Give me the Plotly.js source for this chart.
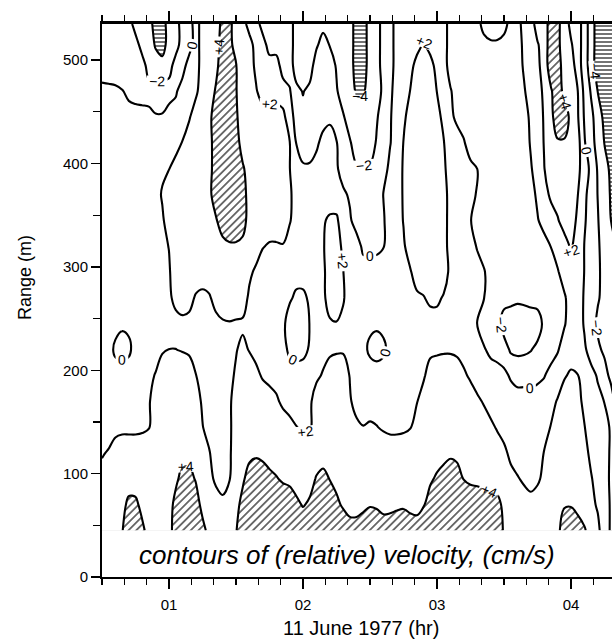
<!DOCTYPE html>
<html><head><meta charset="utf-8">
<script src="https://cdn.plot.ly/plotly-3.0.1.min.js"></script>
<style>html,body{margin:0;padding:0;background:#fff;overflow:hidden}</style>
</head><body>
<div id="chart" style="width:612px;height:640px"></div>
<script>
// time of day, 11 June 1977 (hr)
const hours = [0.50,0.55,0.60,0.65,0.70,0.75,0.80,0.85,0.90,0.95,
  1.00,1.05,1.10,1.15,1.20,1.25,1.30,1.35,1.40,1.45,
  1.50,1.55,1.60,1.65,1.70,1.75,1.80,1.85,1.90,1.95,
  2.00,2.05,2.10,2.15,2.20,2.25,2.30,2.35,2.40,2.45,
  2.50,2.55,2.60,2.65,2.70,2.75,2.80,2.85,2.90,2.95,
  3.00,3.05,3.10,3.15,3.20,3.25,3.30,3.35,3.40,3.45,
  3.50,3.55,3.60,3.65,3.70,3.75,3.80,3.85,3.90,3.95,
  4.00,4.05,4.10,4.15,4.20,4.25,4.30,4.35];
// range (m)
const rangeM = [45,70,95,120,145,170,195,220,245,270,295,320,345,370,395,420,445,470,495,515,535];

// relative velocity (cm/s), one row per range level
const v045 = [2.6,3,3.5,3.9,5,5,4.3,3.5,3,3, 3.6,4.5,5,5,5,4.4,3.6,3,3,3.3, 3.9,5,5,5,5,5,5,5,5,5, 5,5,5,5,5,5,5,5,5,5, 5,5,5,5,5,5,5,5,5,5, 5,5,5,5,5,5,5,5,5,5, 3.8,3.4,3.2,3.1,3,3.1,3.3,3.5,3.7,4.6, 5,4.6,4.2,3.2,2.4,1,-0.3,-1];
const v070 = [2.5,2.8,3.2,3.6,4.3,4.3,3.6,3.1,3,3.1, 3.6,4.3,5,5,4.6,3.6,3,2.5,2.3,2.7, 3.6,4.4,5,5,5,5,5,5,5,4.3, 3.9,4.2,5,5,5,4.3,3.8,3.1,3.1,3.6, 3.9,3.8,3.4,3.5,3.7,3.8,3.5,3.3,3.9,4.6, 5,5,5,5,5,5,5,4.8,4.6,4.5, 3.6,3.3,3,2.6,2.4,2.6,3,3.3,3.6,3.9, 3.9,3.6,3,2.4,1.8,1,-0.3,-1];
const v095 = [2.4,2.8,3,3.2,3.4,3.3,3.1,3,3,3.1, 3.3,3.8,4.3,4.4,3.9,3.2,2.3,1.8,1.5,1.9, 3,3.8,4.5,4.8,4.6,4.3,4.1,3.8,3.6,3.4, 3.3,3.5,4.1,4.4,3.95,3.6,3.2,3,3,3, 3.1,3.1,3,3,3.1,3.2,3.1,3.1,3.4,3.8, 4.2,4.5,4.7,4.5,3.95,3.7,3.6,3.5,3.4,3.2, 2.8,2.4,2.1,1.8,1.6,1.8,2.3,3,3.2,3.4, 3.4,3.2,3,2.1,1.5,0.6,-0.3,-1];
const v120 = [1.9,2.1,2.6,3,3,3,3,3,3,3, 3.2,3.5,3.7,3.6,3.2,2.6,2.1,1.3,1.2,1.7, 3,3.4,3.7,3.8,3.7,3.5,3.3,3.2,3,3, 3,3,3.3,3.4,3.2,3,3,3,3,3, 3,3,3,3,3,3,3,3,3,3.2, 3.4,3.6,3.8,3.7,3.4,3.2,3.1,3,3,3, 2.3,1.7,1.4,1.3,1.3,1.5,2.05,3,3,3, 3,3,2.4,1.7,1.2,0.5,-0.2,-0.8];
const v145 = [1.4,1.5,1.6,1.6,1.6,1.6,1.7,1.9,3,3, 3,3.2,3.3,3.2,3,2.05,1.5,1.2,1.2,1.6, 3,3,3.2,3.3,3.2,3,3,3,2.6,2.05, 1.7,1.8,2.6,3,3,3,3,3,2.4,2.05, 2.2,2.05,1.8,1.6,1.6,1.7,1.9,3,3,3, 3,3.2,3.3,3.2,3,3,3,3,2.4,1.8, 1.5,1.3,1.2,1.2,1.2,1.3,1.6,2.05,3,3, 3,3,2.05,1.5,1,0.5,-0.2,-1];
const v170 = [1,1,1.1,1.2,1.2,1.3,1.4,1.8,3,3, 3,3,3,3,2.6,1.8,1.2,1,1.1,1.6, 3,3,3,3,3,3,2.3,1.6,1.2,1.1, 1.1,1.6,3,3,3,3,3,2.2,1.3,1.2, 1.3,1.3,1.2,1.2,1.2,1.3,1.5,1.9,3,3, 3,3,3,3,3,3,2.4,1.8,1.2,1.1, 1,0.8,0.6,0.6,0.5,0.6,1,1.6,2.1,3, 3,2.5,1.6,1,0.5,-0.05,-1.5,-2.5];
const v195 = [1,1,1.2,1.5,1.3,1.2,1.3,1.6,2.1,3, 3,3,3,3,2.05,1.3,1,1,1.2,1.6, 2.2,3,3,2.4,1.8,1.3,1.3,1.3,1.3,1.3, 1.3,1.3,1.6,2.2,3,3,3,1.9,1.2,1.2, 1.2,1.2,1.2,1.2,1.2,1.2,1.2,1.4,1.7,3, 3,3,3,3,2.3,1.7,1,1,1,1, 0.4,-0.2,-0.5,-0.5,-0.5,-0.3,-0.1,0.6,1.3,1.8, 2.3,2.05,1.3,0.6,-0.2,-1.6,-2.3,-2.7];
const v220 = [1,1,-0.5,-1,-0.5,1,1.3,1.3,1.3,1.8, 2.02,2.02,1.9,1.7,1.3,1,1,1,1.2,1.5, 1.9,2.4,1.9,1.5,1,1,1,1,-0.6,-1, -0.8,0.3,1.3,1.3,1.6,1.8,1.8,1.6,1.2,0.7, -0.5,-1,-0.5,0.8,1.3,1.3,1.3,1.3,1.3,1.5, 1.7,1.8,1.8,1.6,1.3,1,0.6,0.2,-0.5,-1, -1,-2.3,-2.5,-2.4,-2.1,-1.5,-1,-0.8,-0.2,1, 1,1,0.3,-0.8,-1.8,-2.2,-2.5,-2.8];
const v245 = [1,1,0.8,0.4,0.5,1,1,1,1,1.1, 1.2,1.3,1.5,1.5,1.2,1,1.2,1.5,1.8,1.9, 1.8,1.7,1.3,1,1,1,1,0.5,-1,-1, -1,0.05,1,1,1.7,1.9,1.5,1,1,0.8, 0.5,0.4,0.6,1,1,1,1,1,1.1,1.2, 1.2,1.1,1,1,1,0.6,-0.05,-1,-1,-1, -3,-3,-3,-3,-3,-3,-1.5,-1,-0.8,-0.2, 1,1,-0.2,-1.5,-2.2,-2.5,-2.7,-3];
const v270 = [1,1,1,1,1,1,1,1,1,1.2, 1.6,2.6,3,2.6,1.8,1.5,1.8,2.6,3,3, 3,3,1.6,1,1,1,1,1,0.3,-0.4, -0.4,0.3,1,1.5,3,3,2.2,1,1,1, 1,1,1,1,1,1,1.3,1.6,1.9,2.4, 2.4,1.8,1,1,1,1,0.5,0.05,-1,-1, -1.2,-1.5,-1.7,-1.6,-1.4,-1.2,-1,-1,-0.8,-0.3, 1,1,-0.2,-1.2,-1.9,-2.3,-2.6,-3];
const v295 = [1,1,1,1,1,1,1,1,1,1.3, 1.8,3,3,3,3,3,3,3,3,3, 3,3,2.4,1.6,1,1,1,1,1,0.8, 0.8,1,1,1.6,3,3,2.05,1,1,1, 1,1,1,1,1,1.2,1.8,3,3,3, 3,3,1.5,1,1,1,1,0.2,-1,-1, -1,-1,-1,-1,-1,-1,-1,-1,-0.2,1, 1.3,1.3,-0.05,-1,-1.8,-2.4,-2.8,-3.2];
const v320 = [1,1,1,1,1,1,1,1,1.2,1.6, 2.05,3,3,3,3,3,3,3,3.4,3.8, 3.8,3.4,3,3,2.1,1.8,1.8,1.9,1,1, 1,1,1,1.8,3,3,1.5,1,1,-0.5, -0.6,-0.5,-0.1,1,1,1.7,3,3,3,3, 3,3,1,1,1,1,-0.2,-1,-1,-1, -1,-1,-1,-1,-1,-1,-1,0.05,1,1, 2.3,1,-0.05,-1,-1.8,-2.6,-3.2,-4.2];
const v345 = [1,1,1,1,1,1,1,1,1.2,1.7, 3,3,3,3,3,3,3,3.8,5,5, 5,5,3,3,3,3,3,3,2.2,1, 1,1,1,1.8,2.3,2.3,1,0.3,-1,-1, -1,-1,-0.2,1,1,2.1,3,3,3,3, 3,3,1,1,1,0.1,-1,-1,-1,-1, -1,-1,-1,-1,-1,-0.2,1,1,1.8,3, 3,1.6,0.3,-1.2,-1.9,-3,-4.05,-5];
const v370 = [1,1,1,1,1,1,1,1,1.2,2.2, 3,3,3,3,3,3,3.5,5,5,5, 5,5,3,3,3,3,3,3,2.4,1, 1,1,1,1,1,1,0.4,-0.3,-1,-1.3, -1.3,-1,0.05,1,1,2.2,3,3,3,3, 3,3,1,1,1,1,-0.3,-1,-1,-1, -1,-1,-1,-1,-1,0.5,1.2,2.4,3,3, 3,2.05,0.5,-1,-2.05,-3.2,-4.2,-5];
const v395 = [1,1,1,1,1,1,1,1,1.2,1.6, 1.95,3,3,3,3,3,3.3,5,5,5, 5,4.3,3,3,3,3,3,3,2.05,1, 0.3,0.3,0.6,1,0.8,0.3,-1,-1.5,-1.8,-1.9, -1.8,-1.5,-0.8,0.5,1,2.2,3,3,3,3, 3,2.4,1,1,1,0.5,0.05,-1,-1,-1, -1,-1,-1,-1,-0.2,1,1.95,3,3,3, 3,2.5,1,-0.5,-2.2,-3.5,-4.3,-5];
const v420 = [1,1,1,1,1,1,1,1,1,1, 1,1,2.1,3,3,3,3.3,5,5,5, 5,3,3,3,3,3,3,3,2.1,-0.05, -1,-1,-0.3,0.5,0.7,0.1,-1,-1.8,-3,-3, -3,-1.8,-1,-0.1,1,2.05,3,3,3,3, 3,2.1,1,1,0.2,-1,-1,-1,-1,-1, -1,-1,-1,-1,0.2,1,2.1,3,3.8,3.8, 3,2.8,0.2,-1.5,-2.5,-4.05,-5,-5];
const v445 = [1,1,1,1,1,1,1,0.8,0.2,0.2, 1,1,1,1.8,3,3,3.5,5,5,5, 4.3,3,3,3,3,3,3,2.5,1,-0.8, -1.5,-1,-1,-0.6,-0.3,-1,-1.8,-3,-3,-3, -3,-2.2,-1,-0.2,1,1.5,3,3,3,3, 3,1.2,0.5,-0.5,-1,-1,-1,-1,-1,-1, -1,-1,-1,-1,0.5,1,2.2,3.5,5,5, 3.5,2.2,-0.2,-1.5,-3,-4.5,-5,-5];
const v470 = [0.5,0.4,0.3,0.1,-0.6,-1,-1.2,-1.2,-1.3,-1.2, -1,-0.3,1,1,1.6,3,3,4.2,5,5, 4.1,3,3,2.2,1,1,1,1,0.2,-1.5, -2.1,-1.5,-1,-1,-1,-1.8,-3,-3,-4.3,-4.3, -3,-3,-1.5,-0.5,1,1,2.05,3,3,3, 1.95,1,0.2,-1,-1,-1,-1,-1,-1,-1, -1,-1,-1,-0.2,1,1,2.5,3.8,5,3.5, 3,2.05,-0.5,-2.2,-4.05,-5,-5,-5];
const v495 = [-1,-1,-1,-1,-1,-1,-1,-3,-3.2,-3.2, -3,-1,-1,1,1,3,3,3.5,5,5, 4.1,3,3,1.5,1,1,1,-1,-1,-3, -3,-3,-1,-1,-1,-2.2,-3,-3,-5,-5, -3,-3,-1,-1,1,1,1,3,3,3, 1,1,-1,-1,-1,-1,-1,-1,-1,-1, -1,-1,-1,0.3,1,1.5,3,5,5,3, 3,1,-1,-3,-5,-5,-5,-5];
const v515 = [-1,-1,-1,-1,-1,-1,-3,-3,-4.2,-5, -3,-3,-1,-1,1,3,3,3.3,4.8,4.8, 3,3,3,1,1,-1,-1,-1,-1,-3, -3,-3,-2.3,-1.2,-2.1,-3,-3,-3,-5,-5, -3,-3,-1,-1,1,1,1,1,2.3,1, 1,1,-1,-1,-1,-1,-1,-1,-0.3,-0.3, -1,-1,-1,0.5,1,1.8,3,5,4.5,3, 2.2,1,-1,-3,-5,-5,-5,-5];
const v535 = [-1,-1,-1,-1,-1,-3,-3,-3,-5,-5, -3,-3,-1,-1,1,3,3,3,4.6,4.6, 3,3,1,1,-1,-1,-1,-1,-1,-3, -3,-3,-2.8,-2.6,-2.8,-3,-3,-3,-5,-5, -3,-3,-1,-1,1,1,1,1,1.2,1, 1,1,-1,-1,-1,-1,-1,1,1,1, 1,-1,-1,1,1,3,3,5,4.5,3, 1.5,1,-1,-3,-5,-5,-5,-5];
const velocity = [v045,v070,v095,v120,v145,v170,v195,v220,v245,v270,v295,v320,v345,v370,v395,v420,v445,v470,v495,v515,v535];

const tickHours = [1,2,3,4];
const tickLabels = ['01','02','03','04'];

const FONT = 'Liberation Sans, Arial, sans-serif';
const base = {type:'contour', x:hours, y:rangeM, z:velocity, showscale:false, hoverinfo:'skip', autocontour:false};

const fillTrace = Object.assign({}, base, {
  contours:{start:-4, end:4, size:2, coloring:'fill', showlines:false},
  colorscale:[[0,'rgb(0,0,254)'],[0.1,'rgb(0,0,254)'],[0.1,'rgb(255,255,255)'],[0.9,'rgb(255,255,255)'],[0.9,'rgb(254,0,0)'],[1,'rgb(254,0,0)']],
  line:{width:0, smoothing:1}
});
const labelFont = {family:FONT, size:14, color:'#000'};
const negLines = Object.assign({}, base, {
  contours:{start:-4, end:0, size:2, coloring:'none', showlabels:true, labelfont:labelFont},
  line:{color:'#000', width:2.1, smoothing:1}
});
const posLines = Object.assign({}, base, {
  contours:{start:2, end:4, size:2, coloring:'none', showlabels:true, labelformat:'+d', labelfont:labelFont},
  line:{color:'#000', width:2.1, smoothing:1}
});

const xCommon = {range:[0.5,4.306], tickmode:'array', tickvals:tickHours, ticktext:tickLabels,
    ticks:'outside', ticklen:10, tickwidth:1.5, tickcolor:'#000',
    minor:{tickmode:'linear', tick0:0.5, dtick:1/6, ticks:'outside', ticklen:6, tickwidth:1.2, tickcolor:'#000'},
    showgrid:false, zeroline:false, fixedrange:true};

const layout = {
  width:612, height:640,
  margin:{l:102, r:0, t:24, b:63},
  paper_bgcolor:'#fff', plot_bgcolor:'#fff',
  font:{family:FONT, color:'#000', size:15},
  showlegend:false,
  xaxis:Object.assign({}, xCommon, {showline:true, linewidth:2, linecolor:'#000', mirror:false,
    ticklabelstandoff:3, tickfont:{size:15}}),
  xaxis2:Object.assign({}, xCommon, {overlaying:'x', side:'top', anchor:'y', showticklabels:false,
    showline:true, linewidth:2.6, linecolor:'#000', layer:'above traces'}),
  yaxis:{range:[0,535], tickmode:'linear', tick0:0, dtick:100,
    ticks:'outside', ticklen:9, tickwidth:1.5, tickcolor:'#000',
    minor:{tickmode:'linear', tick0:0, dtick:50, ticks:'outside', ticklen:7, tickwidth:1.2, tickcolor:'#000'},
    showline:true, linewidth:2, linecolor:'#000', mirror:false,
    showgrid:false, zeroline:false, tickfont:{size:15}},
  annotations:[
    {text:'<i>contours of (relative) velocity, (cm/s)</i>', xref:'x', yref:'y', x:2.325, y:21,
     xanchor:'center', yanchor:'middle', showarrow:false, font:{size:26, family:FONT}},
    {text:'11 June 1977 (hr)', xref:'paper', yref:'paper', x:0.508, y:-0.092,
     xanchor:'center', yanchor:'middle', showarrow:false, font:{size:20, family:FONT}},
    {text:'Range (m)', xref:'paper', yref:'paper', x:-0.151, y:0.5425, textangle:-90,
     xanchor:'center', yanchor:'middle', showarrow:false, font:{size:18, family:FONT}}
  ]
};

// an empty helper trace so the top axis (same hours scale) is drawn
const topAxisTrace = {type:'scatter', x:[], y:[], xaxis:'x2', yaxis:'y', hoverinfo:'skip', showlegend:false};

Plotly.newPlot('chart', [fillTrace, negLines, posLines, topAxisTrace], layout, {staticPlot:true}).then(function(gd){
  const NS = 'http://www.w3.org/2000/svg';
  const svg = gd.querySelector('.main-svg');
  let defs = svg.querySelector('defs');
  if(!defs){ defs = document.createElementNS(NS,'defs'); svg.insertBefore(defs, svg.firstChild); }
  function mkPattern(id, w, h, rot, x1, y1, x2, y2){
    const p = document.createElementNS(NS,'pattern');
    p.setAttribute('id', id); p.setAttribute('patternUnits','userSpaceOnUse');
    p.setAttribute('width', w); p.setAttribute('height', h);
    if(rot) p.setAttribute('patternTransform','rotate(' + rot + ')');
    const r = document.createElementNS(NS,'rect');
    r.setAttribute('width', w); r.setAttribute('height', h); r.setAttribute('fill','#fff');
    p.appendChild(r);
    const l = document.createElementNS(NS,'line');
    l.setAttribute('x1', x1); l.setAttribute('y1', y1); l.setAttribute('x2', x2); l.setAttribute('y2', y2);
    l.setAttribute('stroke','#000'); l.setAttribute('stroke-width','1.1');
    p.appendChild(l);
    defs.appendChild(p);
  }
  mkPattern('hatchUp', 5.5, 5.5, 45, 2.75, 0, 2.75, 5.5);
  mkPattern('hatchFlat', 6, 4, 0, 0, 2, 6, 2);
  gd.querySelectorAll('.contourbg path, .contourfill path').forEach(function(p){
    const f = getComputedStyle(p).fill || '';
    const m = f.match(/\d+(\.\d+)?/g);
    if(!m || m.length < 3) return;
    const r = +m[0], g = +m[1], b = +m[2];
    if(r > 200 && g < 60 && b < 60) p.style.fill = 'url(#hatchUp)';
    else if(b > 200 && r < 60 && g < 60) p.style.fill = 'url(#hatchFlat)';
  });
});
</script>
</body></html>
